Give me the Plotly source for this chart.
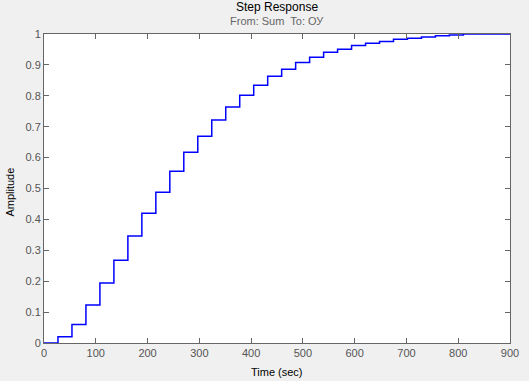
import plotly.graph_objects as go

time_sec = [0, 27, 54, 81, 108, 135, 162, 189, 216, 243, 270, 297, 324, 351, 378,
            405, 432, 459, 486, 513, 540, 567, 594, 621, 648, 675, 702, 729, 756,
            783, 810, 900]
amplitude = [0.0, 0.020, 0.060, 0.123, 0.194, 0.268, 0.346, 0.420, 0.488, 0.556,
             0.617, 0.669, 0.722, 0.764, 0.802, 0.834, 0.863, 0.886, 0.908, 0.925,
             0.941, 0.951, 0.963, 0.970, 0.976, 0.983, 0.986, 0.990, 0.994, 0.997,
             1.0, 1.0]

x_ticks = [0, 100, 200, 300, 400, 500, 600, 700, 800, 900]
y_ticks = [0, 0.1, 0.2, 0.3, 0.4, 0.5, 0.6, 0.7, 0.8, 0.9, 1]
y_tick_text = ["0", "0.1", "0.2", "0.3", "0.4", "0.5", "0.6", "0.7", "0.8", "0.9", "1"]

FONT = "Liberation Sans, Arial, sans-serif"
TICK_COLOR = "#555555"

fig = go.Figure()
fig.add_trace(go.Scatter(
    x=time_sec, y=amplitude, mode="lines",
    line=dict(color="#0000ff", width=1.5, shape="hv"),
    showlegend=False, hoverinfo="x+y",
))

axis_common = dict(
    showgrid=False, zeroline=False, showline=True, mirror="ticks",
    linecolor="#666666", linewidth=1, ticks="inside", ticklen=5,
    tickcolor="#666666", tickfont=dict(family=FONT, size=11, color=TICK_COLOR),
    automargin=False,
)

fig.update_layout(
    width=529, height=381,
    paper_bgcolor="#f0f0f0", plot_bgcolor="#ffffff",
    margin=dict(l=44, r=19, t=34, b=38),
    xaxis=dict(range=[0, 900], tickvals=x_ticks, **axis_common),
    yaxis=dict(range=[0, 1], tickvals=y_ticks, ticktext=y_tick_text, **axis_common),
    annotations=[
        dict(text="Step Response", x=0.5, y=1.087, xref="paper", yref="paper",
             showarrow=False, xanchor="center", yanchor="middle",
             font=dict(family=FONT, size=12, color="#000000")),
        dict(text="From: Sum  To: ОУ", x=0.5, y=1.041, xref="paper", yref="paper",
             showarrow=False, xanchor="center", yanchor="middle",
             font=dict(family=FONT, size=11, color="#666666")),
        dict(text="Time (sec)", x=0.5, y=-0.093, xref="paper", yref="paper",
             showarrow=False, xanchor="center", yanchor="middle",
             font=dict(family=FONT, size=11, color="#000000")),
        dict(text="Amplitude", x=-0.073, y=0.49, xref="paper", yref="paper",
             showarrow=False, xanchor="center", yanchor="middle", textangle=-90,
             font=dict(family=FONT, size=11, color="#000000")),
    ],
)

fig.write_html(
    "out.html",
    config={"displayModeBar": False},
    post_script="document.body.style.margin='0';document.body.style.background='#f0f0f0';",
)
